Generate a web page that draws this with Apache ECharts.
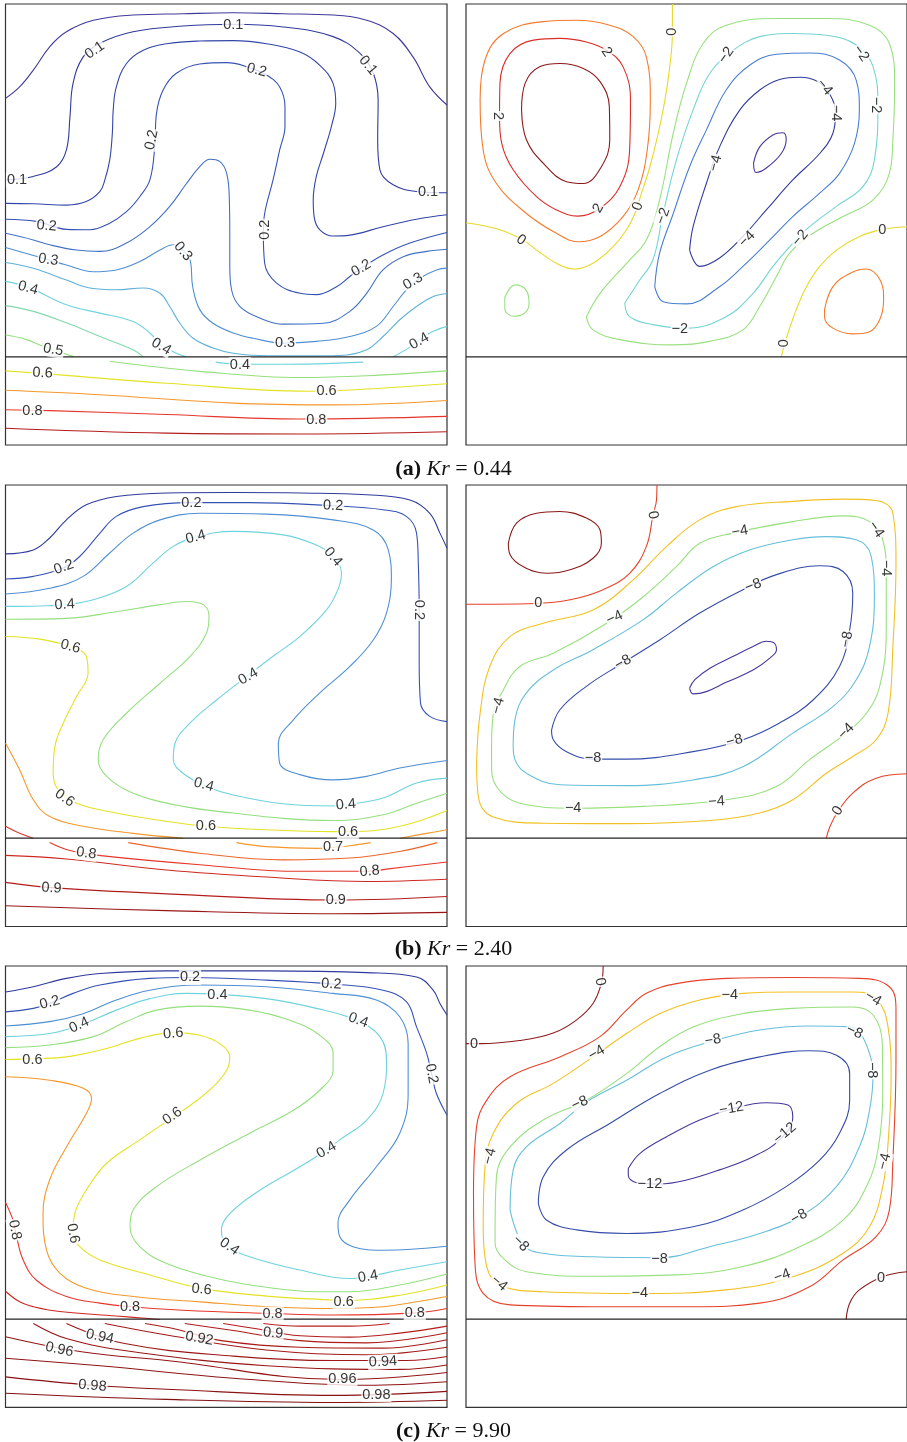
<!DOCTYPE html>
<html>
<head>
<meta charset="utf-8">
<script src="https://cdn.jsdelivr.net/npm/echarts@6/dist/echarts.min.js"></script>
<style>
html,body{margin:0;padding:0;background:#fff;}
#chart{width:907px;height:1442px;}
</style>
</head>
<body>
<div id="chart"></div>
<script>
// Domain of every panel: x 0..100 (cavity width), y 0..100 (bottom to top).
// The porous layer occupies y < 20, the fluid layer above it.
const interfaceY = 20;

// ---------- (a) Kr = 0.44 ----------
// temperature isolines: [level, points, closed?]
const aTemp = [
  [0.05, [[0,78.6],[3.2,81.2],[6.3,85],[10,90.3],[13.8,93.7],[19.9,96.3],[28.9,97.5],[40.2,97.8],[51.6,98],[62.9,97.8],[74.2,97.5],[81.8,96.3],[87.8,93.3],[92.3,88],[96.1,81.2],[100,77.1]]],
  [0.1, [[0,60.1],[6.3,60.9],[11.6,63.1],[13.8,66.9],[14.6,74.4],[15.3,82],[17.6,88],[21.4,91.1],[28.9,93.7],[40.2,95],[51.6,95.4],[62.9,94.8],[74.2,92.6],[80.3,88.8],[83.3,84.3],[84.4,78.2],[84.3,69.2],[84.8,62.4],[87.8,59],[93.1,57.5],[100,57.2]]],
  [0.15, [[0,54.8],[6.3,54.7],[13.8,54.4],[18.3,55.2],[21.4,57.5],[22.5,60.1],[23.6,64.6],[24.2,70.7],[24.4,76],[25.1,81.2],[27.4,86.5],[31.2,89.5],[36.5,91],[44,91.6],[51.6,91.7],[59.1,91],[66.7,89.1],[71.2,86.1],[74.2,82],[74.8,77.5],[73.8,72.2],[72,66.1],[70.4,60.9],[69.7,55.6],[69.9,51.8],[71.2,48.8],[74.2,47.4],[78,47.6],[85.5,49.5],[93.1,51.2],[100,52.2]]],
  [0.2, [[0,51.2],[7,50.7],[13.8,48.9],[19.1,48.8],[23.6,50.3],[27.4,52.9],[30.4,56.3],[32.7,60.1],[33.8,67.6],[34.2,75.2],[35.7,80.5],[38.7,84.3],[44,86.4],[50.1,86.7],[54.6,85.8],[59.1,83.9],[62.1,81.2],[63.3,76.7],[63.3,72.2],[62.1,66.9],[60.6,60.1],[58.7,52.5],[58.4,48],[58.7,41.2],[61.4,36.7],[66.7,34.4],[70.4,34.1],[75,35.9],[78,38.2],[80.3,39.9],[85.5,43.1],[91.6,45.8],[100,48.2]]],
  [0.25, [[0,48],[6.3,46.5],[10,45.4],[16.1,44.2],[21.4,43.9],[27.4,45.8],[32.7,49.5],[37.2,54.1],[41,59.3],[44,63.1],[46.3,64.8],[48.5,64.3],[50.1,61.6],[50.7,55.6],[50.8,48],[50.8,40.5],[51.2,35.2],[53.1,31.4],[57.6,28.8],[62.9,27.4],[72,27.6],[78,30.3],[81.8,34.4],[85.5,39.7],[90.1,42.7],[95.4,43.9],[100,44.4]]],
  [0.3, [[0,44.8],[9.7,42],[13.8,40.8],[19.9,39.3],[25.1,39.7],[30.4,41.6],[35,44.2],[38,45.4],[40.2,44.2],[41.8,42],[42.4,35.9],[44,30.7],[47,27.6],[51.6,25.4],[56.1,24.2],[62.9,23.1],[70.4,23.5],[78,24.6],[84,26.9],[87.8,31.4],[90.8,35.2],[93.8,37.8],[97.6,39.7],[100,40.1]]],
  [0.35, [[0,41.4],[6.3,40.1],[13.8,37.4],[19.1,35.6],[25.1,35.2],[31.2,35.6],[35,34.4],[37.2,31.4],[39.5,27.6],[42.5,24.2],[47,22],[51.6,20.8],[57.6,20.3],[66.7,20.2],[75.7,20.3],[81.8,21.6],[85.5,24.6],[89.3,28.4],[93.1,31.4],[96.9,33.7],[100,34.3]]],
  [0.4, [[0,37.1],[5.1,35.8],[13.8,31.8],[21.4,29.9],[28.9,28],[32.7,25.4],[35.3,22.7],[38.7,20.8],[41,20]]],
  [0.4, [[87.8,20],[91.6,22.2],[96.1,25.4],[100,26.9]]],
  [0.45, [[0,31.6],[6.3,30.3],[13.8,27.7],[21.4,24.6],[28.9,21.6],[31.2,20]]],
  [0.5, [[0,25],[4.8,23.9],[8.5,22.4],[15.3,20.1]]],
  // porous layer
  [0.4, [[47.6,18.8],[51.6,18.4],[59.1,18.3],[70.4,18.4],[81,18.8]]],
  [0.5, [[23.6,19],[44,16.7],[66.7,15.3],[81.8,15.7],[100,16.8]]],
  [0.6, [[0,16.8],[12.3,15.9],[36.5,14],[68.9,12.2],[76.9,12.4],[100,13.9]]],
  [0.7, [[0,12.4],[21.4,11.4],[51.6,9.5],[74.2,9.1],[100,10.1]]],
  [0.8, [[0,8],[10,7.8],[36.5,6.9],[66.7,5.9],[100,6.5]]],
  [0.9, [[0,3.8],[36.5,2.7],[66.7,2.5],[100,3]]]
];
// inline labels: [text, x, y, angle]
const aTempLabels = [
  ['0.1',51.6,95.2,0],['0.1',20.2,89.5,35],['0.1',82.1,86.1,-50],['0.1',2.6,60.1,0],['0.1',95.7,57.3,0],
  ['0.2',56.9,85,-15],['0.2',33.1,69.2,78],['0.2',58.7,48.8,90],['0.2',9.3,49.7,-5],['0.2',80.6,40.1,30],
  ['0.3',9.7,42,-8],['0.3',40.2,43.9,-50],['0.3',63.3,23.1,0],['0.3',92.3,37.1,30],
  ['0.4',5.1,35.6,-15],['0.4',35.3,22.3,-30],['0.4',93.7,23.5,30],
  ['0.5',10.8,21.6,-10],
  ['0.4',53.1,18.2,0],['0.6',8.4,16.3,-3],['0.6',72.7,12.2,0],['0.8',6.1,7.8,0],['0.8',70.4,5.7,0]
];
// stream function isolines
const aStream = [
  [0, [[46.8,100],[46.8,93.3],[46.2,85.8],[45.1,78.2],[43.6,70.7],[41.7,63.1],[39.8,57.1],[38.3,52.5],[36.4,48.8],[33.4,45],[28.8,41.2],[24.7,39.9],[20.5,41.2],[16,44.2],[13,46.4],[7.7,48.8],[0,50.4]]],
  [0, [[100,49.5],[94.5,48.9],[89.2,47.3],[84,44.2],[80.2,40.5],[77.2,35.9],[74.9,30.7],[73.4,26.5],[72.3,23.1],[71.5,20]]],
  [1, [[3.2,78.2],[4.3,87.3],[8.5,93.3],[17.5,96],[25.1,96.3],[32.6,95.2],[37.9,92.6],[40.9,88],[41.8,78.2],[41.1,66.9],[39,57.8],[35.6,51.8],[30.4,47.3],[25.4,46.1],[20.5,48],[13.7,52.5],[6.9,59.3],[3.9,66.9]], 1],
  [2, [[7.6,74.4],[7.7,82],[10,88.8],[15.3,91.8],[21.3,92.2],[27.3,91.4],[31.9,89.5],[35.6,85.8],[37.3,78.2],[37.1,66.9],[34.9,58.6],[30.4,53.7],[25.4,51.9],[20.5,53.3],[16,56.3],[10.7,62.4],[8.1,68.4]], 1],
  [3, [[12.6,76],[13.4,82],[16.8,85.8],[21.3,86.5],[26.6,85.4],[30.4,82.4],[32.5,76.7],[32.6,69.2],[30.7,63.1],[26.6,59.3],[22.8,59.7],[17.5,63.9],[13.7,69.2]], 1],
  [-1, [[27.3,29.1],[30.4,34.4],[36.4,41.2],[40.9,46.5],[43.9,55.6],[47,70.7],[50,82],[53.8,91.1],[59,95.2],[70.4,96.7],[81.7,96.7],[91.5,95.2],[96,91.1],[97.2,82],[96.8,69.2],[96,61.6],[92.3,55.6],[85.5,51.8],[78.7,48],[73.4,43.5],[70.4,38.2],[66.6,31.4],[62.8,26.1],[55.3,23.5],[46.8,22.7],[34.9,23.9],[28.8,26.1]], 1],
  [-1, [[8.8,33.5],[11.1,36.3],[13.7,35],[14.3,32],[13,29.7],[10.7,29.2],[8.8,30.9]], 1],
  [-2, [[36,32.2],[39.4,37.4],[42.4,42],[44.7,52.5],[47.7,64.6],[51.5,76],[55.3,84.3],[60.6,89.5],[66.6,92.6],[74.1,93.3],[81.7,92.9],[88.5,90.7],[92.3,85.8],[93.4,76.7],[92.6,64.6],[90,58.6],[84,54.1],[77.9,49.5],[73.4,45],[69.6,40.5],[65.1,34.4],[59,29.1],[50,26.5],[42.4,27.3],[37.1,29.1]], 1],
  [-3, [[42.8,35.9],[43.9,43.5],[47,52.5],[50.7,63.1],[54.5,71.4],[59,80.5],[64.3,86.1],[70.4,88.6],[77.9,88.9],[84.7,87.3],[88.5,82.7],[89.2,76],[88.1,68.4],[84.7,61.6],[80.2,57.1],[74.1,51.8],[68.9,46.5],[62.8,40.5],[57.5,35.9],[50,32],[44.7,32.5]], 1],
  [-4, [[50.7,44.2],[51.5,49.5],[54.5,59.3],[57.5,67.6],[62.1,76],[66.6,80.5],[71.1,82.9],[75.7,83.4],[79.8,82.4],[82.4,79.7],[83.8,75.2],[83.2,70.7],[80.2,66.1],[74.1,60.1],[68.1,53.3],[62.8,47.3],[57.5,42.4],[53,40.5]], 1],
  [-5, [[65.2,63.9],[66.6,67.6],[69.6,70.3],[71.9,70.8],[72.6,69.2],[71.5,66.1],[68.1,62.8],[65.8,61.8]], 1],
  [1, [[81.3,30.7],[83.2,35.9],[87,38.9],[90.8,39.9],[93.9,37.4],[94.7,32.9],[93.8,28.4],[91.5,25.7],[87.7,25.2],[83.2,26.5],[81.3,29.1]], 1]
];
const aStreamLabels = [
  ['0',46.8,93.7,90],['0',39,54.1,70],['0',12.5,46.5,-35],['0',94.4,48.8,0],['0',72,23.1,90],
  ['2',31.9,89.1,-55],['2',7.3,74.6,-90],['2',30,53.7,60],
  ['\u22122',59,88.4,55],['\u22122',89.6,88.8,-55],['\u22122',93,77.1,-90],['\u22122',44.7,51.9,70],['\u22122',75.8,46.9,50],['\u22122',48.5,26.3,0],
  ['\u22124',81.3,81.1,-50],['\u22124',84,75.3,-90],['\u22124',56.6,63.9,75],['\u22124',63.7,46.7,45]
];

// ---------- (b) Kr = 2.40 ----------
const bTemp = [
  [0.1, [[0,84.4],[6.3,85.3],[10,88],[13.8,92.1],[18.3,95.5],[25.1,97.4],[36.5,98.2],[51.6,98.3],[66.7,98.2],[81.8,97.8],[91.6,96.6],[96.1,93.6],[98.4,89.1],[100,85.7]]],
  [0.2, [[0,78.7],[6.3,79.3],[13.1,81.2],[16.8,83.8],[21.4,89.1],[25.1,92.9],[31.2,95.1],[41.8,96],[55.3,96],[74.2,95.3],[85.5,94.4],[90.8,92.9],[93.1,89.1],[93.5,82.3],[93.7,71.7],[93.7,59.6],[94,50.6],[96.1,47.6],[100,46.4]]],
  [0.3, [[0,75.3],[10,76.6],[17.6,79.3],[23.6,84.6],[28.9,89.1],[35,92.1],[44,93.6],[59.1,93.4],[74.2,92.1],[83.3,89.8],[86.7,85.3],[87.4,78.5],[86.3,71],[83.3,64.9],[78,58.9],[71.2,52.9],[65.2,46.8],[61.8,41.5],[62.1,37],[66.7,34.4],[74.2,33.2],[81.8,34],[89.3,35.9],[100,37.6]]],
  [0.4, [[0,72.5],[7.8,72.6],[13.8,72.9],[19.9,74],[27.4,77],[33.4,82.3],[38,86.1],[43.3,88.3],[51.6,89.5],[62.9,88.7],[70.4,86.4],[74.2,83.8],[76.1,80],[75.3,76.3],[72.7,71.7],[66.7,65.7],[60.6,61.2],[54.6,56.6],[47.8,51.3],[41.8,46.1],[38.4,41.5],[38,37.8],[40.2,34.7],[45.5,31.7],[51.6,29.8],[62.9,27.8],[74.2,27.3],[77.2,27.6],[85.5,29.1],[93.1,32.5],[100,33.6]]],
  [0.5, [[0,69.6],[13.8,69.8],[25.1,71.3],[35,72.9],[41,73.6],[44.8,72.9],[46.1,70.2],[45.5,66.4],[41.8,61.2],[35,55.1],[27.4,48.3],[22.1,42.3],[21,37.8],[22.9,34],[28.9,30.2],[40.2,27.2],[51.6,25.7],[62.9,24.5],[74.2,24],[85.5,25.3],[93.1,27.9],[100,30.2]]],
  [0.6, [[0,65.7],[7.8,65.1],[14.6,63.4],[18.3,61.2],[18.7,57.4],[16.1,52.1],[13.1,46.1],[11.2,40.8],[10.8,34.7],[11.9,31],[16.1,27.9],[25.1,25.7],[36.5,23.8],[45.5,22.7],[59.1,21.9],[74.2,21.5],[78,21.5],[89.3,22.7],[100,26.3]]],
  [0.7, [[0,41.5],[3.2,35.5],[6.3,28.7],[10,24.9],[17.6,22.7],[28.9,21.1],[40.2,20]]],
  [0.7, [[89.3,20],[95.4,21.1],[100,21.9]]],
  [0.8, [[0,22.7],[3.2,21.1],[6.3,20]]],
  // porous layer
  [0.7, [[52.3,19],[59.1,18.1],[70.4,17.7],[75.5,18],[78,18.3],[82.7,19]]],
  [0.75, [[27.8,19],[44,16.6],[62.9,15.1],[78,15.5],[89.3,17],[97.8,19]]],
  [0.8, [[10,19],[14.6,17.2],[22.1,16],[44,14],[66.7,12.5],[82.5,12.5],[86.3,13],[100,14.6]]],
  [0.85, [[0,16.1],[13.8,15.3],[36.5,12.8],[59.1,11.2],[81.8,10.2],[100,10.7]]],
  [0.9, [[0,10],[10.4,8.8],[36.5,7.4],[74.8,6],[100,6.8]]],
  [0.95, [[0,4.7],[36.5,3.6],[74.2,2.9],[100,3.2]]]
];
const bTempLabels = [
  ['0.2',42.1,96,0],['0.2',74.2,95.3,-3],['0.2',13.2,81.4,20],['0.2',93.7,71.7,-90],
  ['0.4',13.4,72.9,3],['0.4',43.1,88.2,15],['0.4',74.2,83.7,-50],['0.4',55,56.6,30],['0.4',44.9,32.1,-15],['0.4',77.1,27.6,5],
  ['0.6',14.7,63.4,-15],['0.6',13.4,29.1,-35],['0.6',45.4,22.7,0],['0.6',77.6,21.5,0],
  ['0.7',74.2,18,0],['0.8',18.3,16.6,-8],['0.8',82.5,12.5,5],['0.9',10.4,8.7,-3],['0.9',74.8,5.9,0]
];
const bStream = [
  [0, [[43.3,100],[43.2,96.6],[42.4,93.2],[40.9,86.1],[37.1,80],[31.1,76.3],[23.6,74],[16.4,73.2],[6.2,73],[0,73]]],
  [0, [[100,34.6],[93,33.6],[87.7,30.2],[84.3,26],[82.5,22.6],[81.7,20]]],
  [2, [[9.6,86.8],[11.5,91.4],[16,93.6],[21.3,94],[27.3,92.5],[30.4,89.8],[30.7,86.8],[28.8,83.4],[23.6,80.8],[18.3,80],[13,81.5],[10,84.2]], 1],
  [-2, [[2.4,37],[3.2,48.3],[5.4,58.9],[10,65.7],[17.5,68.7],[28.8,71.7],[37.9,78.5],[45.5,86.1],[53,92.1],[61.3,95.1],[74.1,96.3],[85.5,96.8],[93,96.5],[96.8,93.6],[97.5,82.3],[96.8,63.4],[95.7,48.3],[93,42.3],[87.7,38.5],[81.7,34.7],[74.1,28.7],[66.6,25.7],[55.3,24],[36.4,23.3],[17.5,23.4],[6.2,24.8],[2.8,29.4]], 1],
  [-4, [[5.8,40.8],[6.2,48.3],[8.1,52.9],[12.2,58.9],[19.8,61.9],[31.9,68.7],[40.2,74.7],[47.7,81.5],[53,86.8],[60.6,89.1],[74.1,91.7],[85.5,93],[91.5,91.7],[94.5,87.6],[95.3,80],[95.3,67.2],[93.8,54.4],[90.8,48.3],[86.2,43.8],[77.9,37.8],[70.4,31.7],[59,28.7],[40.2,27.2],[24.3,26.8],[12.2,27.9],[6.9,31.7],[5.8,37]], 1],
  [-6, [[10.7,40.8],[11.1,46.8],[13.7,52.9],[19.8,58.1],[28.8,62.7],[40.2,69.5],[47.7,75.5],[56,81.5],[64.3,85.3],[74.1,87.6],[81.7,88.3],[88.5,87.6],[91.9,83.8],[92.6,74.7],[91.5,63.4],[88.5,55.9],[83.2,49.8],[74.1,43.8],[62.8,36.2],[51.5,33.2],[36.4,31.9],[21.3,32.1],[13.7,34.7],[11.1,37.8]], 1],
  [-8, [[19.4,44.5],[21.3,49.1],[27.3,54.4],[34.9,59.3],[43.9,64.9],[53,71],[62.8,76.3],[70.4,79.7],[80.2,81.7],[85.5,80.4],[87.7,75.5],[87,67.2],[84.7,58.9],[78.7,51.3],[71.1,46.1],[62.8,42.3],[51.5,39.6],[36.4,37.9],[28.8,37.9],[22.8,39.6],[19.8,42.3]], 1],
  [-10, [[50.7,54],[51.9,55.9],[55.3,58.5],[60.6,61.2],[65.1,63.4],[68.1,64.6],[69.9,64.2],[70.4,62.7],[68.9,60.8],[65.1,58.1],[59,55.3],[54.5,53.2],[51.5,52.7]], 1]
];
const bStreamLabels = [
  ['0',42.4,93.2,-80],['0',16.4,73.2,0],['0',84.3,26.2,60],
  ['\u22124',62.1,89.5,10],['\u22124',93,89.9,-55],['\u22124',95.3,81.2,-90],['\u22124',33.7,69.9,25],['\u22124',7.3,50,75],['\u22124',86.2,44.2,45],['\u22124',24.3,26.8,0],['\u22124',56.8,28.3,3],
  ['\u22128',65.1,77.2,20],['\u22128',35.6,59.8,30],['\u22128',86.4,65,80],['\u22128',60.9,42.1,15],['\u22128',28.8,38.1,0]
];

// ---------- (c) Kr = 9.90 ----------
const cTemp = [
  [0.1, [[0,94.1],[6.3,95.3],[13.8,97.2],[21.4,98.3],[36.5,98.9],[59.1,98.9],[81.8,98.5],[93.1,97.5],[96.9,94.5],[98.4,91.5],[100,88.9]]],
  [0.2, [[0,89.6],[6.3,90.4],[10,91.5],[15.3,93.8],[21.4,95.7],[32.7,97.2],[41.8,97.4],[59.1,96.8],[74.2,95.9],[85.5,94.5],[90.8,91.9],[93.1,86.2],[95.4,80.2],[96.5,75.6],[97.6,71.1],[100,66.2]]],
  [0.3, [[0,86.4],[10,87.4],[17.6,89.2],[25.1,92.3],[32.7,94.5],[44,95.7],[59.1,95.3],[74.2,93.8],[84,92.3],[89.3,88.5],[91.2,82.4],[91.2,71.1],[89.3,62.1],[84,54.5],[78,47],[75.3,41.7],[75.7,38.7],[78.7,36.4],[85.5,35.6],[100,36.5]]],
  [0.4, [[0,84],[10,84.7],[16.8,86.6],[25.1,90],[32.7,92.6],[41,93.8],[47.8,93.6],[59.1,92.6],[70.4,90.4],[79.5,87.7],[84.8,84],[86.3,78.7],[85.5,71.1],[81.8,65.1],[75.7,60.6],[72.7,58.3],[66.7,54.5],[57.6,49.2],[50.8,43.9],[48.9,40.2],[50.1,36.8],[55.3,34.1],[66.7,31.1],[78,29.2],[82.1,29.6],[89.3,31.1],[100,33]]],
  [0.5, [[0,81.5],[10,82.1],[19.9,84],[27.4,87.4],[34.2,90],[44,90.9],[55.3,90],[64.4,87.7],[71.2,84.3],[74.2,80.2],[74.2,76.4],[71.2,71.9],[65.2,67.3],[55.3,62.1],[44,56],[34.2,50],[28.9,44.7],[28.2,40.9],[30.4,36.4],[36.5,32.6],[47.8,29.2],[59.1,27.2],[70.4,26.2],[78,26.2],[89.3,27.7],[100,30.2]]],
  [0.6, [[0,78.8],[6.3,79],[13.8,79.4],[22.9,81.3],[30.4,83.6],[38,84.9],[44,84.3],[48.5,82.4],[50.8,79.4],[50.1,76.4],[47,72.6],[42.5,68.9],[38,65.8],[30.4,60.6],[22.9,55.3],[18.3,49.2],[15.7,43.9],[15.3,39.4],[16.8,36.4],[21.4,33.4],[32.7,30],[44,27],[59.1,25.2],[74.2,24.3],[76.5,24.2],[89.3,25.4],[100,27.7]]],
  [0.7, [[0,74.9],[10,74.1],[17.6,72.3],[19.5,70],[18.3,66.6],[13.8,59],[10,51.5],[8.5,43.9],[9.3,35.6],[12.3,30.4],[18.3,27],[28.9,25.1],[44,23.9],[59.1,22.8],[74.2,22.4],[85.5,22.8],[93.1,23.9],[100,25.1]]],
  [0.8, [[0,46.4],[1.7,42.4],[2.5,38.7],[4,33.4],[7,28.8],[13.8,25.1],[21.4,23.6],[28.2,22.8],[40.2,22],[59.1,21.3],[74.2,20.9],[92.7,21.4],[100,22.4]]],
  [0.85, [[0,26.3],[3.2,23.9],[6.3,22.8],[12.3,21.7],[25.1,20.7],[35,19.9]]],
  // porous layer
  [0.89, [[58.4,19],[66.7,18.4],[78,18.4],[87,19]]],
  [0.9, [[49.3,19],[56.1,17.9],[66.7,16.2],[78,15.9],[89.3,16.8],[100,18.4]]],
  [0.91, [[40.6,19],[51.6,17.4],[66.7,15.1],[81.8,14.6],[100,16.9]]],
  [0.92, [[31.6,19],[38.7,17.7],[48.9,15.1],[66.7,13.6],[85.5,13.4],[100,15.3]]],
  [0.93, [[22.5,19],[36.5,16.4],[59.1,13],[81.8,11.9],[100,13.6]]],
  [0.94, [[13.8,19],[26.7,14.5],[51.6,11.6],[74.2,10.6],[90.8,10.6],[100,11.5]]],
  [0.95, [[6.3,19],[13.8,15.6],[28.9,12.6],[59.1,9.4],[89.3,8.6],[100,9.6]]],
  [0.96, [[0,16],[17.2,12.6],[36.5,10.6],[76.3,6.3],[100,7.9]]],
  [0.97, [[0,11.1],[21.4,9.4],[51.6,6.6],[81.8,5],[100,5.8]]],
  [0.98, [[0,6.9],[19.7,5],[36.5,4.1],[74.2,2.7],[100,3.6]]],
  [0.99, [[0,3.2],[36.5,1.8],[74.2,1.1],[100,1.6]]]
];
const cTempLabels = [
  ['0.2',10,91.7,15],['0.2',41.8,97.4,0],['0.2',73.8,95.9,-3],['0.2',96.5,75.6,-80],
  ['0.4',16.7,86.6,25],['0.4',48,93.5,0],['0.4',79.9,87.7,-20],['0.4',72.7,58.3,30],['0.4',50.7,36.4,-35],['0.4',82.1,29.6,10],
  ['0.6',6.1,78.8,0],['0.6',38,84.7,5],['0.6',37.8,66,35],['0.6',15.3,39.4,-80],['0.6',44.4,26.7,-5],['0.6',76.6,23.9,0],
  ['0.8',2.1,40.2,-80],['0.8',28.2,22.7,0],['0.8',60.5,21.1,0],['0.8',92.7,21.4,0],
  ['0.9',60.6,16.8,-5],['0.92',43.9,15.6,-10],['0.94',21.4,16,-12],['0.96',12.2,13.1,-12],['0.98',19.7,4.9,-5],
  ['0.94',85.5,10.3,3],['0.96',76.3,6.3,0],['0.98',84,2.9,0]
];
const cStream = [
  [0, [[31.1,100],[30.7,96.1],[28.8,91.5],[25.1,87.8],[19.8,84.8],[12.2,83.1],[3.2,82.4],[0,82.4]]],
  [0, [[100,30.7],[94.5,29.6],[89.2,26.6],[87,23.6],[86.2,19.9]]],
  [-2, [[1.7,48.5],[2.4,63.6],[4.7,69.6],[10,74.9],[21.3,79.4],[30.4,84],[36.4,90],[40.9,93.8],[47.7,96],[59,97.2],[74.1,97.4],[89.2,97.2],[96,95.3],[97.5,90],[97.5,78.7],[96.8,56],[96,44.7],[93,38.7],[85.5,33.4],[77.9,27.3],[66.6,23.6],[51.5,22.8],[28.8,22.8],[10,23.2],[3.9,25.8],[2,33.4]], 1],
  [-4, [[3.9,40.9],[4.3,54.5],[6.2,62.1],[11.5,68.9],[19.8,73.4],[28.8,79.4],[36.4,84.7],[43.9,89.2],[53,92.3],[62.8,93.8],[74.1,94.1],[87.7,94.1],[93,92.6],[95.7,86.2],[96.4,74.9],[95.7,59.8],[94.5,50],[91.5,40.9],[85.5,34.9],[74.1,29.6],[59,26.6],[40.2,25.8],[17.5,26.2],[7.7,27.7],[4.7,31.9]], 1],
  [-6, [[6.6,40.9],[6.9,52.2],[10,59],[17.5,65.1],[27.3,69.6],[36.4,75.6],[43.9,81.7],[51.5,86.2],[62.8,89.2],[74.1,90.4],[87.7,90.7],[92.3,88.9],[94.4,82.4],[94.5,71.1],[93.4,58.3],[90.8,50],[85.5,42.4],[75.7,36.4],[62.8,31.9],[47.7,30],[28.8,29.7],[13.7,30.7],[8.5,33.7],[6.6,37.1]], 1],
  [-8, [[10,44.7],[10.7,53.8],[13.7,59],[21.3,64.3],[27.3,69.2],[36.4,74.1],[45.5,79.4],[55.3,82.8],[66.6,85.5],[77.9,86.4],[87,86.2],[89.2,85.1],[91.5,80.2],[92.3,75.6],[91.5,67.3],[89.2,59],[84,50],[75.7,43.2],[66.6,39.4],[55.3,36.4],[43.9,33.9],[28.8,34.1],[17.5,34.9],[13,36.8]], 1],
  [-10, [[16.4,46.2],[17.5,52.2],[22.8,58.3],[32.6,64.3],[43.9,71.1],[55.3,76.4],[66.6,79.4],[77.9,80.8],[84,79.8],[87,75.6],[87,69.6],[84.7,62.1],[80.2,56],[72.6,50],[62.8,44.7],[51.5,40.9],[36.4,39.4],[25.1,40.2],[18.3,42.4]], 1],
  [-12, [[36.8,54.1],[39.4,57.5],[45.5,61.3],[53,65.1],[60.6,67.7],[68.1,69],[73,68.5],[74.1,65.8],[71.1,60.6],[65.1,56.8],[57.5,53.8],[50,51.5],[43.9,50.6],[38.7,50.9],[36.8,52.6]], 1]
];
const cStreamLabels = [
  ['0',30.4,96.4,-80],['0',1.8,82.4,0],['0',94.1,29.4,0],
  ['\u22124',59.8,93.4,0],['\u22124',92.3,92.6,-30],['\u22124',29.6,80.3,30],['\u22124',5.4,56.9,75],['\u22124',7.5,28.1,-40],['\u22124',39.4,25.8,0],['\u22124',71.7,29.8,20],['\u22124',94.9,55.7,75],
  ['\u22128',25.8,68.9,25],['\u22128',56,83.2,10],['\u22128',88.1,85.1,-25],['\u22128',92.1,76.4,-90],['\u22128',75.5,43.2,30],['\u22128',43.9,33.7,0],['\u22128',12.4,37.1,-45],
  ['\u221212',60.2,67.7,10],['\u221212',72.3,62.1,40],['\u221212',41.7,50.6,0]
];

// panel captions: [tag, Kr]
const captionTags = ['(a)', '(b)', '(c)'];
const captionKr = ['0.44', '2.40', '9.90'];

// ---------- colour maps ----------
// temperature colours indexed directly by the isoline level
const tempStops = [
  [0.05,'#403a9a'],[0.1,'#2f3a9c'],[0.2,'#3552b3'],[0.3,'#4f8fd3'],[0.4,'#6fd3dd'],
  [0.5,'#95df7f'],[0.6,'#e4e224'],[0.7,'#f4982c'],[0.8,'#e6362a'],[0.9,'#b41c1c'],[1.0,'#7e1010']
];
// stream-function colours indexed by the position of the level inside its panel range
const streamStops = [
  [0,'#46379c'],[0.14,'#2e3c9c'],[0.25,'#4a7fd0'],[0.36,'#6fd3dd'],[0.5,'#98e07e'],
  [0.64,'#f2d81e'],[0.75,'#f47a2c'],[0.86,'#e2302a'],[1,'#8b1a1a']
];
function hex(c){ return [1,3,5].map(i => parseInt(c.substr(i,2),16)); }
function ramp(stops, v){
  if (v <= stops[0][0]) return stops[0][1];
  for (let i = 1; i < stops.length; i++) {
    if (v <= stops[i][0]) {
      const t = (v - stops[i-1][0]) / (stops[i][0] - stops[i-1][0]);
      const a = hex(stops[i-1][1]), b = hex(stops[i][1]);
      return 'rgb(' + a.map((x, k) => Math.round(x + (b[k] - x) * t)).join(',') + ')';
    }
  }
  return stops[stops.length-1][1];
}

// ---------- layout ----------
const grids = [
  {left:5.5, top:4,   width:441.5, height:441},
  {left:466, top:4,   width:441,   height:441},
  {left:5.5, top:485, width:441.5, height:441.5},
  {left:466, top:485, width:441,   height:441.5},
  {left:5.5, top:966, width:441.5, height:441.3},
  {left:466, top:966, width:441,   height:441.3}
];
const panels = [
  {lines:aTemp,   labels:aTempLabels,   kind:'temp'},
  {lines:aStream, labels:aStreamLabels, kind:'stream'},
  {lines:bTemp,   labels:bTempLabels,   kind:'temp'},
  {lines:bStream, labels:bStreamLabels, kind:'stream'},
  {lines:cTemp,   labels:cTempLabels,   kind:'temp'},
  {lines:cStream, labels:cStreamLabels, kind:'stream'}
];

const xAxes = [], yAxes = [], series = [];
panels.forEach((p, i) => {
  xAxes.push({gridIndex:i, type:'value', min:0, max:100, show:false});
  yAxes.push({gridIndex:i, type:'value', min:0, max:100, show:false});
  const levels = p.lines.map(l => l[0]);
  const lo = Math.min(...levels), hi = Math.max(...levels);
  p.lines.forEach(l => {
    const color = p.kind === 'temp' ? ramp(tempStops, l[0]) : ramp(streamStops, (l[0] - lo) / (hi - lo));
    const pts = l[2] ? l[1].concat([l[1][0]]) : l[1];
    series.push({
      type:'line', xAxisIndex:i, yAxisIndex:i, data:pts, smooth:0.4,
      symbol:'none', silent:true, animation:false, z:2,
      lineStyle:{width:1.1, color:color}
    });
  });
  // fluid / porous interface
  series.push({
    type:'line', xAxisIndex:i, yAxisIndex:i, data:[[0,interfaceY],[100,interfaceY]],
    symbol:'none', silent:true, animation:false, z:3,
    lineStyle:{width:1.2, color:'#222'}
  });
  // contour labels
  series.push({
    type:'scatter', xAxisIndex:i, yAxisIndex:i, symbolSize:1, silent:true, animation:false, z:5,
    itemStyle:{color:'rgba(0,0,0,0)'},
    label:{show:true, position:'inside', fontFamily:'Liberation Sans, Arial, sans-serif', fontSize:14.5,
           color:'#000', backgroundColor:'#fff', padding:[0,1]},
    data:p.labels.map(d => ({value:[d[1], d[2]], label:{formatter:d[0], rotate:d[3]}}))
  });
});

const captionTops = [453, 933, 1415];
const titles = captionTags.map((t, i) => ({
  text: '{b|' + t + '} {i|Kr} {r|= ' + captionKr[i] + '}',
  left:'center', top:captionTops[i],
  textStyle:{fontWeight:'normal', fontFamily:'Liberation Serif, serif', fontSize:22, color:'#111', rich:{
    b:{fontFamily:'Liberation Serif, serif', fontWeight:'bold', fontSize:22, color:'#111'},
    i:{fontFamily:'Liberation Serif, serif', fontStyle:'italic', fontWeight:'normal', fontSize:22, color:'#111'},
    r:{fontFamily:'Liberation Serif, serif', fontWeight:'normal', fontSize:22, color:'#111'}
  }}
}));

const chart = echarts.init(document.getElementById('chart'), null, {renderer:'canvas'});
chart.setOption({
  animation:false,
  backgroundColor:'#fff',
  title:titles,
  grid:grids.map(g => Object.assign({show:true, borderColor:'#333', borderWidth:1.2, backgroundColor:'transparent'}, g)),
  xAxis:xAxes,
  yAxis:yAxes,
  series:series
});
</script>
</body>
</html>
